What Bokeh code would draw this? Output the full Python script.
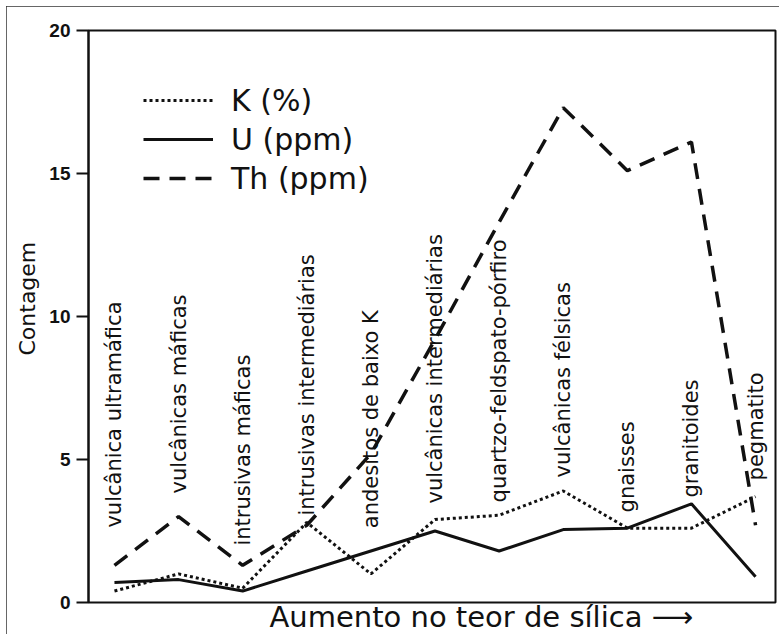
from bokeh.plotting import figure
from bokeh.models import (Range1d, FixedTicker, Legend, LegendItem, Title, ColumnDataSource)
from bokeh.core.properties import value
from bokeh.embed import file_html
from bokeh.resources import INLINE
import math

# ---- data ----
categories = [
    "vulcânica ultramáfica",
    "vulcânicas máficas",
    "intrusivas máficas",
    "intrusivas intermediárias",
    "andesitos de baixo K",
    "vulcânicas intermediárias",
    "quartzo-feldspato-pórfiro",
    "vulcânicas félsicas",
    "gnaisses",
    "granitoides",
    "pegmatito",
]
k_pct = [0.4, 1.0, 0.5, 2.8, 1.0, 2.9, 3.05, 3.9, 2.6, 2.6, 3.7]
u_ppm = [0.7, 0.8, 0.4, 1.1, 1.8, 2.5, 1.8, 2.55, 2.6, 3.45, 0.9]
th_ppm = [1.3, 3.0, 1.3, 2.7, 5.2, 9.2, 13.3, 17.3, 15.1, 16.1, 2.7]
y_ticks = [0, 5, 10, 15, 20]
series_names = ["K (%)", "U (ppm)", "Th (ppm)"]
y_title = "Contagem"
x_title = "Aumento no teor de sílica \u27f6"

# layout: where each rotated category label starts (in y units)
label_base = [2.62, 3.81, 1.99, 3.04, 2.6, 3.46, 3.5, 4.37, 3.15, 3.67, 4.27]

xs = list(range(len(categories)))
INK = "#111111"
FONT = "DejaVu Sans"

p = figure(width=773, height=628, output_backend="svg", toolbar_location=None,
           x_range=Range1d(-0.405, 10.311), y_range=Range1d(0, 20),
           x_axis_location=None,
           min_border_left=81, min_border_right=4, min_border_top=24, min_border_bottom=32)
p.styles = {"margin": "6px 0 0 6px", "outline": "2px solid #333", "outline-offset": "-2px"}
p.background_fill_color = "white"
p.border_fill_color = "white"
p.outline_line_color = INK
p.outline_line_width = 2
p.grid.visible = False

ax = p.yaxis[0]
ax.ticker = FixedTicker(ticks=y_ticks)
ax.axis_line_color = INK
ax.axis_line_width = 2
ax.major_tick_line_color = INK
ax.major_tick_line_width = 2
ax.major_tick_out = 12
ax.major_tick_in = 0
ax.minor_tick_line_color = None
ax.major_label_standoff = 6
ax.major_label_text_font = "Liberation Sans"
ax.major_label_text_font_style = "bold"
ax.major_label_text_font_size = "19px"
ax.major_label_text_color = INK

src = ColumnDataSource(dict(x=xs, k=k_pct, u=u_ppm, th=th_ppm, base=label_base, name=categories))

rK = p.line("x", "k", source=src, line_color=INK, line_width=3, line_dash="3 3")
rU = p.line("x", "u", source=src, line_color=INK, line_width=3)
rTh = p.line("x", "th", source=src, line_color=INK, line_width=3.5, line_dash="16 10")

p.text(x="x", y="base", text="name", source=src, angle=math.pi / 2,
       text_align="left", text_baseline="middle", text_font=value(FONT),
       text_font_size="21px", text_color=INK)

legend = Legend(items=[LegendItem(label=series_names[0], renderers=[rK]),
                       LegendItem(label=series_names[1], renderers=[rU]),
                       LegendItem(label=series_names[2], renderers=[rTh])],
                location=(55, 406), padding=0, margin=0, spacing=3,
                glyph_width=70, glyph_height=36, label_height=36, label_standoff=18,
                label_text_font=FONT, label_text_font_size="30px", label_text_color=INK,
                border_line_color=None, background_fill_alpha=0)
p.add_layout(legend)

p.add_layout(Title(text=y_title, align="left", offset=247, standoff=13,
                   text_font=FONT, text_font_size="22px", text_font_style="normal",
                   text_color=INK), "left")

p.add_layout(Title(text=x_title, align="left", offset=181, standoff=-5,
                   vertical_align="top",
                   text_font=FONT, text_font_size="29px", text_font_style="normal",
                   text_color=INK), "below")

open("out.html", "w").write(file_html(p, INLINE))
